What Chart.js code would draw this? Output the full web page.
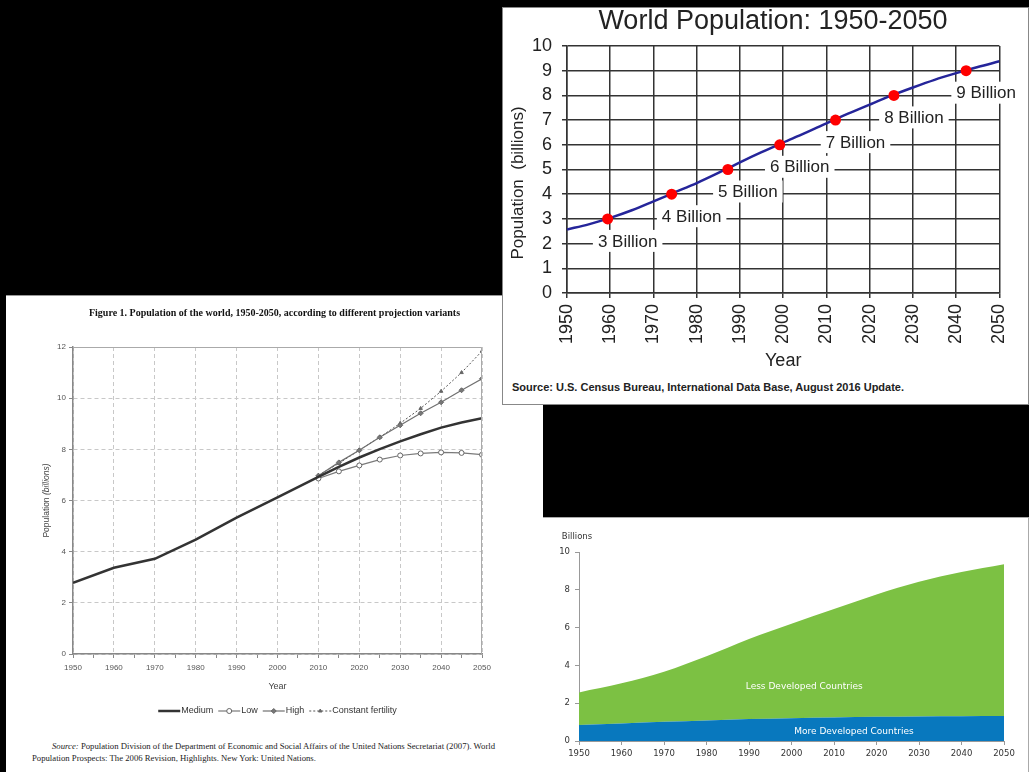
<!DOCTYPE html>
<html>
<head>
<meta charset="utf-8">
<script src="https://cdn.jsdelivr.net/npm/chart.js@4.4.1/dist/chart.umd.min.js"></script>
<style>
  html, body { margin: 0; padding: 0; background: #000; }
  body { position: relative; width: 1029px; height: 772px; overflow: hidden; }
  .panel { position: absolute; background: #fff; box-sizing: border-box; }
  .box { position: absolute; }
  .txt { position: absolute; white-space: nowrap; }
</style>
</head>
<body>
<div class="panel" style="left:6px;top:295px;width:537px;height:477px;border-top:1px solid #999;"></div>
<div class="panel" style="left:543px;top:517px;width:486px;height:255px;border-top:1px solid #aaa;border-right:1px solid #aaa;"></div>
<div class="panel" style="left:502px;top:7px;width:527px;height:398px;border:1px solid #888;"></div>

<div class="box" style="left:503px;top:8px;width:524px;height:372px;"><canvas id="censusChart"></canvas></div>
<div class="txt" style="left:512px;top:381px;font:bold 11px 'Liberation Sans';color:#222;">Source: U.S. Census Bureau, International Data Base, August 2016 Update.</div>

<div class="txt" style="left:6px;top:307px;width:537px;text-align:center;font:bold 10px 'Liberation Serif';color:#111;">Figure 1. Population of the world, 1950-2050, according to different projection variants</div>
<div class="box" style="left:6px;top:330px;width:494px;height:395px;"><canvas id="unChart"></canvas></div>
<div class="txt" style="left:32px;top:740px;font:8.7px/12px 'Liberation Serif';color:#222;"><span style="padding-left:20px"><i>Source:</i> Population Division of the Department of Economic and Social Affairs of the United Nations Secretariat (2007). World</span><br>Population Prospects: The 2006 Revision, Highlights. New York: United Nations.</div>

<div class="box" style="left:543px;top:522px;width:484px;height:250px;"><canvas id="devChart"></canvas></div>

<script>
// top right: U.S. Census Bureau estimate
const censusYears = [1950, 1955, 1960, 1965, 1970, 1975, 1980, 1985, 1990, 1995, 2000,
  2005, 2010, 2015, 2020, 2025, 2030, 2035, 2040, 2045, 2050];
const censusPop = [2.57, 2.78, 3.04, 3.35, 3.71, 4.08, 4.45, 4.86, 5.29, 5.70, 6.09,
  6.47, 6.87, 7.26, 7.63, 7.99, 8.32, 8.63, 8.90, 9.15, 9.38];
const milestoneYears = [1959.4, 1974.2, 1987.2, 1999.2, 2012.1, 2025.6, 2042.3];
const milestoneValues = [3, 4, 5, 6, 7, 8, 9];

// bottom left: UN projection variants
const medYears = [1950, 1960, 1970, 1980, 1990, 2000, 2010, 2015, 2020, 2025, 2030, 2035, 2040, 2045, 2050];
const medPop = [2.78, 3.37, 3.72, 4.47, 5.33, 6.12, 6.92, 7.31, 7.68, 8.01, 8.31, 8.59, 8.85, 9.05, 9.22];
const projYears = [2010, 2015, 2020, 2025, 2030, 2035, 2040, 2045, 2050];
const lowPop = [6.86, 7.14, 7.37, 7.60, 7.76, 7.84, 7.88, 7.86, 7.79];
const highPop = [6.97, 7.49, 7.96, 8.47, 8.94, 9.41, 9.84, 10.31, 10.76];
const constPop = [6.99, 7.45, 7.97, 8.47, 9.02, 9.60, 10.27, 11.00, 11.84];

// bottom right: more / less developed countries
const devYears = [1950, 1960, 1970, 1980, 1990, 2000, 2010, 2020, 2030, 2040, 2050];
const moreDev = [0.85, 0.93, 1.02, 1.09, 1.16, 1.21, 1.25, 1.28, 1.30, 1.31, 1.32];
const lessDev = [1.72, 2.12, 2.64, 3.39, 4.24, 4.99, 5.73, 6.47, 7.12, 7.63, 8.03];

const pts = (xs, ys) => xs.map((x, i) => ({ x: x, y: ys[i] }));
const yearLabel = v => String(v);

// ---------- chart 1 ----------
const arial = 'Liberation Sans';

const censusLabels = {
  id: 'censusLabels',
  afterDatasetsDraw(chart) {
    const { ctx, scales: { x, y } } = chart;
    ctx.save();
    ctx.font = '17px ' + arial;
    ctx.textAlign = 'center';
    ctx.textBaseline = 'middle';
    milestoneValues.forEach((v, i) => {
      const t = v + ' Billion';
      const cx = x.getPixelForValue(milestoneYears[i]) + 20;
      const cy = y.getPixelForValue(v) + 22;
      const w = ctx.measureText(t).width + 10;
      ctx.fillStyle = '#fff';
      ctx.fillRect(cx - w / 2, cy - 11, w, 22);
      ctx.fillStyle = '#222';
      ctx.fillText(t, cx, cy + 1);
    });
    ctx.restore();
  },
  afterDraw(chart) {
    const ctx = chart.ctx;
    ctx.save();
    ctx.fillStyle = '#222';
    ctx.textAlign = 'center';
    ctx.textBaseline = 'middle';
    ctx.font = '27px ' + arial;
    ctx.fillText('World Population: 1950-2050', 270, 14);
    ctx.translate(15, 175);
    ctx.rotate(-Math.PI / 2);
    ctx.font = '17px ' + arial;
    ctx.fillText('Population  (billions)', 0, 0);
    ctx.restore();
  }
};

new Chart(document.getElementById('censusChart'), {
  type: 'line',
  data: {
    datasets: [{
      label: 'Milestones',
      data: pts(milestoneYears, milestoneValues),
      showLine: false,
      pointRadius: 5.5,
      pointBackgroundColor: '#ff0000',
      pointBorderWidth: 0,
      order: 0
    }, {
      label: 'World population',
      data: pts(censusYears, censusPop),
      borderColor: '#25259a',
      borderWidth: 2.5,
      pointRadius: 0,
      cubicInterpolationMode: 'monotone',
      order: 1
    }]
  },
  options: {
    responsive: true,
    maintainAspectRatio: false,
    animation: false,
    layout: { padding: { left: 0, right: 25, top: 38, bottom: 0 } },
    plugins: {
      legend: { display: false },
      tooltip: { enabled: false }
    },
    scales: {
      x: {
        type: 'linear', min: 1950, max: 2050,
        ticks: { stepSize: 10, autoSkip: false, minRotation: 90, maxRotation: 90, padding: 6,
          color: '#222', font: { family: arial, size: 18 }, callback: yearLabel },
        grid: { color: '#333', lineWidth: 1.5, tickLength: 5 },
        border: { color: '#333', width: 1.5 },
        title: { display: true, text: 'Year', color: '#222', font: { family: arial, size: 18 },
          padding: { top: 0, bottom: 8 } },
        afterFit: s => { s.height = 87; }
      },
      y: {
        min: 0, max: 10,
        ticks: { stepSize: 1, padding: 10, color: '#222', font: { family: arial, size: 18 } },
        grid: { color: '#333', lineWidth: 1.5, tickLength: 5 },
        border: { color: '#333', width: 1.5 },
        afterFit: s => { s.width = 64; }
      }
    }
  },
  plugins: [censusLabels]
});

// ---------- chart 2 ----------
const unExtras = {
  id: 'unExtras',
  afterDatasetsDraw(chart) {
    const { ctx, chartArea: a } = chart;
    ctx.save();
    ctx.strokeStyle = '#aaa';
    ctx.lineWidth = 1;
    ctx.beginPath();
    ctx.moveTo(a.left, a.top + 0.5);
    ctx.lineTo(a.right - 0.5, a.top + 0.5);
    ctx.lineTo(a.right - 0.5, a.bottom);
    ctx.stroke();
    ctx.restore();
  },
  afterDraw(chart) {
    const { ctx, chartArea: a } = chart;
    ctx.save();
    // y title, "(billions)" in italics
    ctx.translate(41, (a.top + a.bottom) / 2);
    ctx.rotate(-Math.PI / 2);
    ctx.fillStyle = '#444';
    ctx.textBaseline = 'middle';
    ctx.font = '8.5px ' + arial;
    const p1 = 'Population ';
    const w1 = ctx.measureText(p1).width;
    ctx.font = 'italic 8.5px ' + arial;
    const p2 = '(billions)';
    const w2 = ctx.measureText(p2).width;
    let sx = -(w1 + w2) / 2;
    ctx.font = '8.5px ' + arial;
    ctx.fillText(p1, sx, 0);
    ctx.font = 'italic 8.5px ' + arial;
    ctx.fillText(p2, sx + w1, 0);
    ctx.restore();

    // legend
    ctx.save();
    ctx.font = '9px ' + arial;
    ctx.textBaseline = 'middle';
    const lineLen = 22;
    const items = chart.data.datasets.map(d => ({ d: d, w: lineLen + 1 + ctx.measureText(d.label).width }));
    const total = items.reduce((s, it) => s + it.w, 0) + 5 * (items.length - 1);
    let x = (a.left + a.right) / 2 - total / 2;
    const y = 381;
    items.forEach(it => {
      const d = it.d;
      ctx.strokeStyle = d.borderColor;
      ctx.lineWidth = d.borderWidth;
      ctx.setLineDash(d.borderDash || []);
      ctx.beginPath();
      ctx.moveTo(x, y);
      ctx.lineTo(x + lineLen, y);
      ctx.stroke();
      ctx.setLineDash([]);
      if (d.pointRadius > 0) {
        ctx.fillStyle = d.pointBackgroundColor;
        ctx.strokeStyle = d.pointBorderColor;
        ctx.lineWidth = 1;
        Chart.helpers.drawPoint(ctx, { pointStyle: d.pointStyle, radius: d.pointRadius, borderWidth: 1, rotation: 0 }, x + lineLen / 2, y);
      }
      ctx.fillStyle = '#333';
      ctx.fillText(d.label, x + lineLen + 1, y);
      x += it.w + 5;
    });
    ctx.restore();
  }
};

const gridGray = '#c8c8c8';
new Chart(document.getElementById('unChart'), {
  type: 'line',
  data: {
    datasets: [{
      label: 'Medium',
      data: pts(medYears, medPop),
      borderColor: '#333',
      borderWidth: 2.5,
      pointRadius: 0,
      order: 0
    }, {
      label: 'Low',
      data: pts(projYears, lowPop),
      borderColor: '#7a7a7a',
      borderWidth: 1.2,
      pointStyle: 'circle',
      pointRadius: 2.5,
      pointBackgroundColor: '#fff',
      pointBorderColor: '#666',
      pointBorderWidth: 1,
      order: 1
    }, {
      label: 'High',
      data: pts(projYears, highPop),
      borderColor: '#707070',
      borderWidth: 1.2,
      pointStyle: 'rectRot',
      pointRadius: 2.5,
      pointBackgroundColor: '#777',
      pointBorderColor: '#666',
      pointBorderWidth: 1,
      order: 2
    }, {
      label: 'Constant fertility',
      data: pts(projYears, constPop),
      borderColor: '#555',
      borderWidth: 1,
      borderDash: [2, 2],
      pointStyle: 'triangle',
      pointRadius: 2,
      pointBackgroundColor: '#666',
      pointBorderColor: '#666',
      pointBorderWidth: 1,
      order: 3
    }]
  },
  options: {
    responsive: true,
    maintainAspectRatio: false,
    animation: false,
    layout: { padding: { left: 0, right: 18, top: 17, bottom: 0 } },
    plugins: { legend: { display: false }, tooltip: { enabled: false } },
    scales: {
      x: {
        type: 'linear', min: 1950, max: 2050,
        ticks: { stepSize: 5, autoSkip: false, maxRotation: 0, padding: 5, color: '#555',
          font: { family: arial, size: 8 }, callback: v => (v % 10 === 0 ? String(v) : '') },
        grid: {
          color: c => (c.tick && c.tick.value % 10 === 0 ? gridGray : 'rgba(0,0,0,0)'),
          tickColor: '#888', tickLength: 4, lineWidth: 1
        },
        border: { color: '#888', width: 1.5, dash: [4, 3] },
        title: { display: true, text: 'Year', color: '#444', font: { family: arial, size: 9 },
          padding: { top: 0, bottom: 33 } },
        afterFit: s => { s.height = 71; }
      },
      y: {
        min: 0, max: 12,
        ticks: { stepSize: 2, padding: 3, color: '#555', font: { family: arial, size: 8 } },
        grid: { color: gridGray, tickColor: '#888', tickLength: 4, lineWidth: 1 },
        border: { color: '#888', width: 1.5, dash: [4, 3] },
        afterFit: s => { s.width = 67; }
      }
    }
  },
  plugins: [unExtras]
});

// ---------- chart 3 ----------
const dejavu = 'DejaVu Sans';
const devLabels = {
  id: 'devLabels',
  afterDraw(chart) {
    const { ctx, scales: { x, y } } = chart;
    ctx.save();
    ctx.textAlign = 'center';
    ctx.textBaseline = 'middle';
    ctx.font = '9px ' + dejavu;
    ctx.fillStyle = '#fff';
    ctx.fillText('Less Developed Countries', x.getPixelForValue(2003), y.getPixelForValue(2.9));
    ctx.fillText('More Developed Countries', x.getPixelForValue(2014.7), y.getPixelForValue(0.48));
    ctx.font = '8.5px ' + dejavu;
    ctx.fillStyle = '#333';
    ctx.fillText('Billions', 34, 15);
    ctx.restore();
  }
};

new Chart(document.getElementById('devChart'), {
  type: 'line',
  data: {
    datasets: [{
      label: 'More Developed Countries',
      data: pts(devYears, moreDev),
      backgroundColor: '#0878be',
      borderWidth: 0,
      pointRadius: 0,
      fill: 'origin',
      cubicInterpolationMode: 'monotone'
    }, {
      label: 'Less Developed Countries',
      data: pts(devYears, lessDev),
      backgroundColor: '#7cc143',
      borderWidth: 0,
      pointRadius: 0,
      fill: '-1',
      cubicInterpolationMode: 'monotone'
    }]
  },
  options: {
    responsive: true,
    maintainAspectRatio: false,
    animation: false,
    layout: { padding: { left: 0, right: 23, top: 30, bottom: 0 } },
    plugins: { legend: { display: false }, tooltip: { enabled: false } },
    scales: {
      x: {
        type: 'linear', min: 1950, max: 2050,
        ticks: { stepSize: 10, autoSkip: false, maxRotation: 0, padding: 4, color: '#333',
          font: { family: dejavu, size: 8.5 }, callback: yearLabel },
        grid: { drawOnChartArea: false, tickColor: '#999', tickLength: 4 },
        border: { color: '#999' },
        afterFit: s => { s.height = 31; }
      },
      y: {
        min: 0, max: 10, stacked: true,
        ticks: { stepSize: 2, padding: 5, color: '#333', font: { family: dejavu, size: 8.5 } },
        grid: { drawOnChartArea: false, tickColor: '#999', tickLength: 4 },
        border: { color: '#999' },
        afterFit: s => { s.width = 36; }
      }
    }
  },
  plugins: [devLabels]
});
</script>
</body>
</html>
